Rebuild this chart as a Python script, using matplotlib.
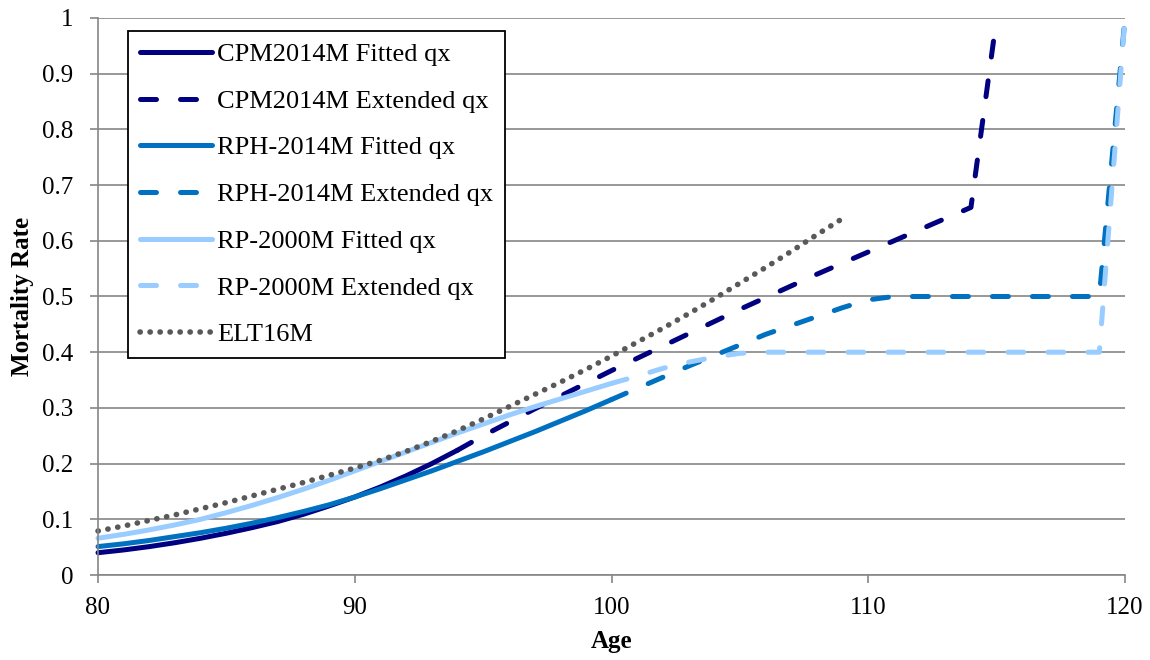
import matplotlib
matplotlib.use("Agg")
import matplotlib.pyplot as plt
from matplotlib.ticker import FuncFormatter, MultipleLocator

plt.rcParams["font.family"] = ["Liberation Serif", "DejaVu Serif"]

# ---------------------------------------------------------------------------
# Mortality rates qx by age
# ---------------------------------------------------------------------------
cpm_fit_age = list(range(80, 95))
cpm_fit_qx = [0.040, 0.045, 0.051, 0.058, 0.066, 0.075, 0.085, 0.096, 0.109,
              0.124, 0.140, 0.158, 0.178, 0.200, 0.224]

cpm_ext_age = list(range(94, 116))
cpm_ext_qx = [0.224, 0.250, 0.274, 0.298, 0.321, 0.344, 0.367, 0.389, 0.411,
              0.433, 0.455, 0.477, 0.498, 0.519, 0.540, 0.560, 0.580, 0.600,
              0.620, 0.640, 0.660, 1.000]

rph_fit_age = list(range(80, 101))
rph_fit_qx = [0.051, 0.056, 0.062, 0.069, 0.076, 0.084, 0.093, 0.103, 0.114,
              0.126, 0.140, 0.155, 0.171, 0.187, 0.204, 0.221, 0.239, 0.257,
              0.276, 0.295, 0.315]

rph_ext_age = list(range(100, 121))
rph_ext_qx = [0.315, 0.335, 0.355, 0.375, 0.394, 0.413, 0.432, 0.448, 0.464,
              0.480, 0.494, 0.500, 0.500, 0.500, 0.500, 0.500, 0.500, 0.500,
              0.500, 0.500, 1.000]

rp_fit_age = list(range(80, 101))
rp_fit_qx = [0.066, 0.073, 0.081, 0.090, 0.100, 0.112, 0.125, 0.139, 0.154,
             0.170, 0.187, 0.204, 0.221, 0.238, 0.255, 0.271, 0.287, 0.302,
             0.316, 0.330, 0.344]

rp_ext_age = list(range(100, 121))
rp_ext_qx = [0.344, 0.357, 0.371, 0.382, 0.391, 0.398, 0.400, 0.400, 0.400,
             0.400, 0.400, 0.400, 0.400, 0.400, 0.400, 0.400, 0.400, 0.400,
             0.400, 0.400, 1.000]

elt_age = list(range(80, 110))
elt_qx = [0.079, 0.088, 0.098, 0.108, 0.119, 0.130, 0.142, 0.154, 0.166,
          0.179, 0.192, 0.206, 0.222, 0.240, 0.259, 0.280, 0.302, 0.324,
          0.346, 0.369, 0.393, 0.418, 0.443, 0.469, 0.496, 0.524, 0.552,
          0.581, 0.611, 0.640]

NAVY = "#000080"
MID = "#0070C0"
LIGHT = "#99CCFF"
GREY = "#595959"
AXIS = "#868686"

LW = 3.6
DASH = (3.2, 4.8)

fig = plt.figure(figsize=(11.5, 6.6), dpi=100)
ax = fig.add_axes([98 / 1150, 1 - 575 / 660, (1125 - 98) / 1150, (575 - 18) / 660])

common = dict(lw=LW, solid_capstyle="round", dash_capstyle="round", clip_on=False)

ax.plot(cpm_fit_age, cpm_fit_qx, color=NAVY, label="CPM2014M Fitted qx", **common)
ax.plot(cpm_ext_age, cpm_ext_qx, color=NAVY, dashes=DASH,
        label="CPM2014M Extended qx", **common)
ax.plot(rph_fit_age, rph_fit_qx, color=MID, label="RPH-2014M Fitted qx", **common)
ax.plot(rph_ext_age, rph_ext_qx, color=MID, dashes=DASH,
        label="RPH-2014M Extended qx", **common)
ax.plot(rp_fit_age, rp_fit_qx, color=LIGHT, label="RP-2000M Fitted qx", **common)
ax.plot(rp_ext_age, rp_ext_qx, color=LIGHT, dashes=DASH,
        label="RP-2000M Extended qx", **common)
ax.plot(elt_age, elt_qx, color=GREY, lw=4.0, dashes=(0.05, 1.75),
        dash_capstyle="round", clip_on=False, label="ELT16M")

ax.set_xlim(80, 120)
ax.set_ylim(0, 1)
ax.xaxis.set_major_locator(MultipleLocator(10))
ax.yaxis.set_major_locator(MultipleLocator(0.1))
ax.yaxis.set_major_formatter(FuncFormatter(lambda v, _: f"{v:g}"))

ax.grid(axis="y", color=AXIS, lw=1.2)
ax.set_axisbelow(True)
for side in ("top", "right"):
    ax.spines[side].set_visible(False)
for side in ("left", "bottom"):
    ax.spines[side].set_color(AXIS)
    ax.spines[side].set_linewidth(1.2)
ax.tick_params(axis="both", colors=AXIS, width=1.2, length=5.5,
               labelsize=18, labelcolor="black")
ax.tick_params(axis="y", pad=12.5)
ax.tick_params(axis="x", pad=10.5)

ax.set_xlabel("Age", fontsize=18, fontweight="bold", labelpad=8)
ax.set_ylabel("Mortality Rate", fontsize=18, fontweight="bold", labelpad=5.5)

leg = fig.legend(loc="upper left", bbox_to_anchor=(128 / 1150, 1 - 30.7 / 660),
                 fontsize=19, handlelength=2.73, handletextpad=0.2,
                 labelspacing=0.88, borderpad=0.45, borderaxespad=0,
                 fancybox=False, framealpha=1, edgecolor="black")
leg.get_frame().set_linewidth(1.3)

fig.savefig("out.png", dpi=100)
